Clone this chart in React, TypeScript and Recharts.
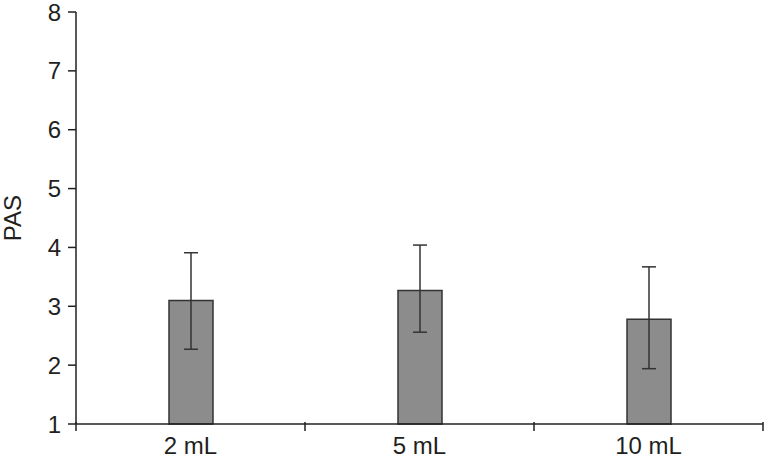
import { BarChart, Bar, XAxis, YAxis, ErrorBar } from "recharts";

const categories = ["2 mL", "5 mL", "10 mL"];
const means = [3.1, 3.27, 2.78];
const errLow = [0.83, 0.71, 0.84];
const errHigh = [0.81, 0.77, 0.89];
const yTicks = [1, 2, 3, 4, 5, 6, 7, 8];

const W = 765;
const H = 460;
const LEFT = 76;
const RIGHT = 2;
const TOP = 12;
const XAXIS_H = 36;
const INK = "#231f20";
const FONT = "'Liberation Sans', Arial, sans-serif";
const FS = 24;

const data = categories.map((c, i) => ({
  name: c,
  pas: means[i],
  err: [errLow[i], errHigh[i]],
}));

const band = (W - LEFT - RIGHT) / categories.length;

// category labels in the middle, tick marks on the band edges
function XTick(props: any) {
  const { x, y, payload, index } = props;
  const axisY = y - 10;
  return (
    <g>
      {index === 0 && (
        <line x1={x - band / 2} x2={x - band / 2} y1={axisY} y2={axisY + 9} stroke={INK} strokeWidth={1.5} />
      )}
      <line x1={x + band / 2} x2={x + band / 2} y1={axisY} y2={axisY + 9} stroke={INK} strokeWidth={1.5} />
      <text x={x} y={y + 22} textAnchor="middle" fill={INK} fontSize={FS} fontFamily={FONT}>
        {payload.value}
      </text>
    </g>
  );
}

function YLabel(props: any) {
  const vb = props.viewBox;
  const cx = 12;
  const cy = vb.y + vb.height / 2;
  return (
    <text
      x={cx}
      y={cy}
      transform={`rotate(-90, ${cx}, ${cy})`}
      textAnchor="middle"
      dominantBaseline="central"
      fill={INK}
      fontSize={FS}
      fontFamily={FONT}
    >
      PAS
    </text>
  );
}

export default function App() {
  return (
    <div style={{ width: W, height: H, background: "#fff" }}>
      <style>{"body{margin:0}"}</style>
      <BarChart
        width={W}
        height={H}
        data={data}
        margin={{ top: TOP, right: RIGHT, bottom: 0, left: 0 }}
      >
        <XAxis
          dataKey="name"
          height={XAXIS_H}
          tickLine={false}
          axisLine={{ stroke: INK, strokeWidth: 1.5 }}
          tick={<XTick />}
          interval={0}
        />
        <YAxis
          width={LEFT}
          domain={[1, 8]}
          ticks={yTicks}
          interval={0}
          tickSize={8}
          tickMargin={7}
          axisLine={{ stroke: INK, strokeWidth: 1.5 }}
          tickLine={{ stroke: INK, strokeWidth: 1.5 }}
          tick={{ fill: INK, fontSize: FS, fontFamily: FONT }}
          label={{ content: <YLabel /> }}
        />
        <Bar
          dataKey="pas"
          barSize={44}
          fill="#8c8c8c"
          stroke="#333333"
          strokeWidth={1.5}
          isAnimationActive={false}
        >
          <ErrorBar dataKey="err" width={7} stroke="#333333" strokeWidth={1.5} direction="y" />
        </Bar>
      </BarChart>
    </div>
  );
}
